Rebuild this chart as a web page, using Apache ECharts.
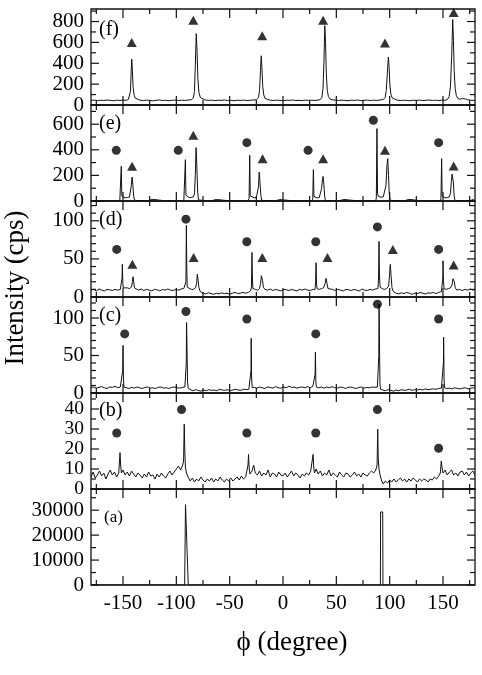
<!DOCTYPE html>
<html>
<head>
<meta charset="utf-8">
<script src="https://cdn.jsdelivr.net/npm/echarts@6/dist/echarts.min.js"></script>
<style>
html, body { margin: 0; padding: 0; background: #fff; }
#chart { width: 482px; height: 675px; }
</style>
</head>
<body>
<div id="chart"></div>
<script>
// phi (degree) / intensity (cps) pairs, top (f) to bottom (a)
const traceF = [
  [-180, 44], [-177, 47], [-174, 42], [-171, 46], [-168, 43], [-165, 48], [-162, 44], [-159, 41], [-156, 46], [-153, 43],
  [-150, 47], [-147, 45], [-145, 52], [-144, 70], [-143, 130], [-142.4, 300], [-141.8, 440], [-141.2, 330], [-140.5, 170], [-139.6, 95],
  [-138.5, 65], [-137, 52], [-134, 46], [-131, 42], [-128, 47], [-125, 44], [-122, 40], [-119, 45], [-116, 48], [-113, 43],
  [-110, 46], [-107, 41], [-104, 45], [-101, 47], [-98, 43], [-95, 46], [-92, 44], [-89, 48], [-86, 50], [-84, 68],
  [-83, 130], [-82.2, 380], [-81.3, 684], [-80.6, 520], [-79.8, 250], [-78.8, 120], [-77.5, 72], [-76, 55], [-73, 48], [-70, 44],
  [-67, 47], [-64, 42], [-61, 46], [-58, 44], [-55, 48], [-52, 43], [-49, 45], [-46, 41], [-43, 46], [-40, 44],
  [-37, 47], [-34, 43], [-31, 45], [-28, 48], [-25, 50], [-23, 70], [-22, 140], [-21.1, 330], [-20.4, 472], [-19.8, 360],
  [-19, 180], [-18, 95], [-16.8, 62], [-15, 52], [-12, 46], [-9, 43], [-6, 47], [-3, 44], [0, 41], [3, 46],
  [6, 44], [9, 48], [12, 43], [15, 45], [18, 42], [21, 47], [24, 44], [27, 46], [30, 43], [33, 48],
  [35, 52], [36.5, 75], [37.5, 160], [38.4, 420], [39.2, 761], [39.9, 600], [40.6, 300], [41.5, 140], [42.6, 80], [44, 58],
  [46, 50], [49, 46], [52, 43], [55, 47], [58, 44], [61, 41], [64, 46], [67, 44], [70, 48], [73, 42],
  [76, 45], [79, 47], [82, 43], [85, 46], [88, 44], [91, 48], [94, 52], [95.8, 72], [96.8, 140], [97.8, 300],
  [98.8, 460], [99.5, 360], [100.2, 190], [101.2, 100], [102.5, 66], [104, 54], [107, 47], [110, 43], [113, 46], [116, 44],
  [119, 41], [122, 46], [125, 44], [128, 47], [131, 43], [134, 45], [137, 48], [140, 44], [143, 46], [146, 42],
  [149, 47], [152, 45], [154, 52], [155.8, 80], [157, 180], [158.2, 480], [159.1, 819], [159.8, 620], [160.5, 330], [161.4, 160],
  [162.5, 90], [164, 62], [166, 55], [168, 62], [169.4, 74], [171, 58], [173, 50], [176, 46], [180, 44]
]
const triF = [[-141.8, 599], [-84.1, 811], [-19.5, 663], [37.6, 811], [95.6, 593], [160, 887]]

const traceE = [
  [-180, 1], [-170, 2], [-160, 1], [-153, 2], [-152.2, 15], [-151.6, 271], [-151.1, 40], [-150.3, 28], [-148, 25], [-146, 27],
  [-144, 30], [-143, 45], [-142.2, 120], [-141.5, 187], [-140.8, 130], [-140, 40], [-139.2, 5], [-138, 1], [-130, 2], [-127, 3],
  [-126, 12], [-122, 13], [-121, 3], [-110, 1], [-100, 2], [-93, 2], [-92.1, 15], [-91.5, 323], [-91, 45], [-90.2, 30],
  [-88, 27], [-86, 28], [-84, 32], [-83, 55], [-82.2, 200], [-81.5, 417], [-80.8, 280], [-80, 70], [-79.2, 8], [-78, 1],
  [-70, 2], [-67, 2], [-66, 11], [-62.5, 12], [-61.5, 2], [-50, 1], [-40, 2], [-33, 2], [-31.8, 18], [-31.2, 357],
  [-30.7, 40], [-29.9, 28], [-27, 25], [-25, 28], [-24, 40], [-23, 110], [-22.3, 226], [-21.6, 150], [-20.8, 45], [-20, 5],
  [-19, 1], [-10, 2], [-7, 2], [-6, 12], [-3, 11], [-2, 2], [10, 1], [20, 2], [27.5, 3], [27.9, 20],
  [28.5, 245], [29, 35], [29.8, 26], [32, 24], [34, 27], [35.3, 40], [36.2, 100], [37, 170], [37.6, 192], [38.3, 130],
  [39, 40], [39.8, 4], [41, 1], [50, 2], [53, 2], [54, 12], [57, 12], [58, 2], [70, 1], [80, 2],
  [87, 3], [87.5, 25], [88.1, 566], [88.6, 60], [89.4, 35], [92, 30], [94, 32], [95.5, 45], [96.5, 120], [97.5, 280],
  [98.2, 331], [98.9, 200], [99.6, 60], [100.4, 5], [102, 1], [110, 2], [114, 2], [115, 12], [118, 13], [119, 2],
  [130, 1], [140, 2], [147.6, 3], [148.1, 22], [148.7, 331], [149.2, 40], [150, 28], [152, 25], [154, 27], [156, 32],
  [157, 60], [157.8, 150], [158.5, 210], [159.1, 218], [159.7, 150], [160.4, 45], [161.2, 4], [163, 1], [170, 2], [175, 2],
  [176, 11], [178.5, 12], [179.5, 3], [180, 1]
]
const circE = [[-156.3, 396], [-98.2, 396], [-33.9, 456], [23.5, 396], [84.7, 631], [145.9, 456]]
const triE = [[-141.5, 271], [-84.1, 514], [-19.1, 331], [37.6, 331], [95.6, 396], [160, 273]]

const traceD = [
  [-180, 9], [-177.5, 10], [-175, 8], [-172.5, 10.5], [-170, 9], [-167.5, 8], [-165, 10], [-162.5, 9.5], [-160, 8.5], [-157.5, 10],
  [-155, 9], [-152.5, 10], [-151.3, 10], [-150.9, 25], [-150.6, 43], [-150.2, 20], [-149.8, 12], [-148, 11], [-146, 12], [-144, 11],
  [-142, 13], [-141.2, 20], [-140.6, 26.6], [-140, 20], [-139.2, 12], [-138, 10], [-135.5, 9], [-133, 10.5], [-130.5, 8.5], [-128, 10],
  [-125.5, 9], [-123, 8], [-120.5, 10], [-118, 9.5], [-115.5, 8], [-113, 10], [-110.5, 9], [-108, 10.5], [-105.5, 9], [-103, 8.5],
  [-100.5, 10], [-98, 9], [-95.5, 10.5], [-93, 11], [-91.5, 12], [-91, 20], [-90.6, 94], [-90.2, 40], [-89.8, 13], [-88, 11],
  [-86, 10], [-84, 10], [-82, 12], [-81, 18], [-80.3, 30], [-79.6, 22], [-78.8, 12], [-77.5, 7], [-75, 5], [-72.5, 4],
  [-70, 5.5], [-67.5, 4.5], [-65, 3.5], [-62.5, 5], [-60, 4], [-57.5, 5.5], [-55, 4.5], [-52.5, 5], [-50, 3.5], [-47.5, 5],
  [-45, 6], [-42.5, 4.5], [-40, 5], [-37.5, 6], [-35, 5], [-32.5, 6], [-30.5, 8], [-29.6, 12], [-29.1, 58.5], [-28.7, 25],
  [-28.2, 11], [-26, 10], [-24, 9], [-22, 11], [-21, 18], [-20.3, 28], [-19.8, 30], [-19.2, 22], [-18.4, 13], [-17, 10],
  [-14.5, 9], [-12, 10.5], [-9.5, 8.5], [-7, 10], [-4.5, 9], [-2, 8], [0.5, 10], [3, 9.5], [5.5, 8.5], [8, 10],
  [10.5, 9], [13, 8], [15.5, 10], [18, 9], [20.5, 10.5], [23, 9], [25.5, 8.5], [28, 10], [30, 10], [30.6, 20],
  [31, 45], [31.4, 18], [32, 11], [34, 10], [36, 11], [38, 12], [39.6, 18], [40.4, 24.5], [41.2, 18], [42.2, 11],
  [44, 9], [46.5, 10], [49, 8.5], [51.5, 10], [54, 9], [56.5, 8], [59, 10], [61.5, 9.5], [64, 8.5], [66.5, 10],
  [69, 9], [71.5, 8], [74, 10.5], [76.5, 9], [79, 8.5], [81.5, 10], [84, 9], [86.5, 10.5], [89, 11], [89.6, 25],
  [90, 73], [90.4, 30], [91, 13], [93, 11], [95, 10], [97, 11], [99, 14], [99.9, 30], [100.6, 42.8], [101.3, 28],
  [102.2, 12], [103.5, 7], [106, 5], [108.5, 4], [111, 5.5], [113.5, 4.5], [116, 6], [118.5, 5], [121, 3.5], [123.5, 5],
  [126, 4.5], [128.5, 6], [131, 5], [133.5, 4], [136, 5.5], [138.5, 5], [141, 6], [143.5, 4.5], [146, 6], [148.5, 7],
  [149.5, 9], [149.8, 25], [150, 47.6], [150.4, 22], [151, 11], [153, 10], [155, 11], [157, 12], [158.5, 16], [159.4, 24],
  [160, 26.6], [160.6, 20], [161.5, 12], [163, 9], [165.5, 10], [168, 8.5], [170.5, 10], [173, 9], [175.5, 10.5], [178, 9],
  [180, 10]
]
const circD = [[-155.9, 62.5], [-91, 102.2], [-33.9, 72.5], [30.7, 72.5], [88.5, 92], [145.9, 62.5]]
const triD = [[-141.2, 43], [-83.8, 52], [-19.4, 52], [41.7, 52], [103, 62.5], [160, 42]]

const traceC = [
  [-180, 7], [-177.5, 8], [-175, 6.5], [-172.5, 7.5], [-170, 8.5], [-167.5, 7], [-165, 6], [-162.5, 8], [-160, 7.5], [-157.5, 9],
  [-155, 7], [-152.5, 8], [-150.8, 8], [-150.3, 30], [-150, 63.4], [-149.6, 20], [-149.1, 8], [-147, 7], [-144.5, 6], [-142, 7.5],
  [-139.5, 6.5], [-137, 8], [-134.5, 7], [-132, 6], [-129.5, 7.5], [-127, 8], [-124.5, 6.5], [-122, 7], [-119.5, 6], [-117, 7.5],
  [-114.5, 8], [-112, 6.5], [-109.5, 7], [-107, 6], [-104.5, 7.5], [-102, 8], [-99.5, 7], [-97, 6.5], [-94.5, 7.5], [-92, 8],
  [-91, 9], [-90.7, 40], [-90.4, 94], [-90, 60], [-89.5, 15], [-88.8, 6], [-87, 4], [-84.5, 3], [-82, 4.5], [-79.5, 3.5],
  [-77, 2.5], [-74.5, 4], [-72, 3], [-69.5, 4.5], [-67, 3.5], [-64.5, 4], [-62, 3], [-59.5, 5], [-57, 4], [-54.5, 3.5],
  [-52, 4.5], [-49.5, 3], [-47, 4], [-44.5, 5], [-42, 4], [-39.5, 3.5], [-37, 5], [-34.5, 4.5], [-32, 5], [-30.4, 6],
  [-30, 30], [-29.8, 73], [-29.4, 20], [-28.9, 7], [-27, 7.5], [-24.5, 6.5], [-22, 8], [-19.5, 7], [-17, 6], [-14.5, 8],
  [-12, 7.5], [-9.5, 6.5], [-7, 8.5], [-4.5, 7], [-2, 6.5], [0.5, 8], [3, 7], [5.5, 9], [8, 7.5], [10.5, 8],
  [13, 6.5], [15.5, 7.5], [18, 8], [20.5, 7], [23, 8.5], [25.5, 7], [28, 9], [29.8, 8], [30.1, 25], [30.4, 54.5],
  [30.8, 15], [31.3, 8], [33.5, 7], [36, 8], [38.5, 6.5], [41, 8], [43.5, 7], [46, 8.5], [48.5, 7], [51, 6.5],
  [53.5, 8], [56, 7.5], [58.5, 6], [61, 7.5], [63.5, 8], [66, 7], [68.5, 6], [71, 7.5], [73.5, 8], [76, 6.5],
  [78.5, 7.5], [81, 7], [83.5, 8], [86, 7.5], [88.5, 8], [89.5, 10], [89.8, 50], [90.1, 118.5], [90.5, 60], [90.9, 12],
  [91.5, 5], [93.5, 4], [96, 3], [98.5, 4.5], [101, 3.5], [103.5, 2.5], [106, 4], [108.5, 3], [111, 4.5], [113.5, 3.5],
  [116, 4], [118.5, 5], [121, 3.5], [123.5, 4.5], [126, 4], [128.5, 5], [131, 4], [133.5, 5.5], [136, 4.5], [138.5, 5],
  [141, 5.5], [143.5, 5], [146, 6], [148.5, 6.5], [150.1, 7], [150.4, 40], [150.6, 74.4], [151, 18], [151.5, 7], [153.5, 6],
  [156, 6.5], [158.5, 5.5], [161, 7], [163.5, 6], [166, 5.5], [168.5, 6.5], [171, 7], [173.5, 5.5], [176, 6.5], [178.5, 7],
  [180, 6]
]
const circC = [[-148.4, 78.8], [-91, 108.7], [-33.9, 98.6], [30.7, 78.8], [88.5, 118.5], [145.9, 98.6]]

const traceB = [
  [-180, 6], [-178, 8.5], [-176, 5.5], [-174, 7], [-172, 9], [-170, 6.5], [-168, 8], [-166, 5], [-164, 7.5], [-162, 9.5],
  [-160, 7], [-158, 8.5], [-156, 6], [-154, 8], [-153.3, 9], [-152.8, 18.2], [-152.2, 12], [-151.5, 8], [-150, 9.5], [-148, 7],
  [-146, 8.5], [-144, 6.5], [-142, 9], [-140, 7.5], [-138, 6], [-136, 8], [-134, 7], [-132, 5.5], [-130, 7.5], [-128, 6],
  [-126, 8.5], [-124, 6.5], [-122, 7], [-120, 5], [-118, 7.5], [-116, 6], [-114, 8], [-112, 6.5], [-110, 5.5], [-108, 7.5],
  [-106, 9], [-104, 7], [-102, 8.5], [-100, 10], [-98, 11.5], [-96, 9.5], [-94, 12], [-93.2, 14], [-92.6, 32.4], [-92.1, 20],
  [-91.5, 11], [-90.5, 8], [-89, 6], [-87, 4], [-85, 5.5], [-83, 3.5], [-81, 5], [-79, 4], [-77, 6], [-75, 4.5],
  [-73, 3.5], [-71, 5], [-69, 4], [-67, 5.5], [-65, 3.5], [-63, 5], [-61, 4], [-59, 6], [-57, 4.5], [-55, 3.5],
  [-53, 5], [-51, 4], [-49, 5.5], [-47, 4], [-45, 5], [-43, 6], [-41, 4.5], [-39, 6.5], [-37, 5], [-35, 6],
  [-33.5, 7], [-32.8, 12], [-32.3, 17.3], [-31.8, 11], [-31, 7.5], [-29, 9], [-27.5, 12], [-26, 8], [-24, 7], [-22, 9],
  [-20, 6.5], [-18, 8], [-16, 7], [-14, 9.5], [-12, 6], [-10, 8], [-8, 7.5], [-6, 6], [-4, 8.5], [-2, 7],
  [0, 6.5], [2, 8], [4, 6], [6, 7.5], [8, 9], [10, 6.5], [12, 8], [14, 7], [16, 5.5], [18, 7.5],
  [20, 6.5], [22, 8], [24, 7], [26, 9], [27.5, 10], [28.2, 17.3], [28.8, 11], [29.5, 8], [31, 10], [33, 7.5],
  [35, 9], [37, 6.5], [39, 8], [41, 7], [43, 9.5], [45, 6.5], [47, 8], [49, 7], [51, 6], [53, 8.5],
  [55, 7], [57, 6], [59, 8], [61, 7.5], [63, 6], [65, 7], [67, 8.5], [69, 6.5], [71, 7.5], [73, 6],
  [75, 8], [77, 7], [79, 6.5], [81, 8], [83, 9], [85, 8], [87, 9.5], [88.2, 12], [88.8, 29.9], [89.3, 15],
  [90, 10], [91, 7], [92.5, 4], [94, 2.5], [96, 4], [98, 3], [100, 4.5], [102, 3.5], [104, 5], [106, 3.5],
  [108, 4.5], [110, 5.5], [112, 4], [114, 5], [116, 3.5], [118, 5], [120, 4], [122, 5.5], [124, 4.5], [126, 3.5],
  [128, 5], [130, 4], [132, 5], [134, 4.5], [136, 3.5], [138, 5], [140, 4.5], [142, 6], [144, 5], [146, 6.5],
  [147.5, 8], [148.4, 14], [149, 11], [150, 8], [152, 9.5], [154, 7], [156, 8.5], [158, 9.5], [160, 7], [162, 8],
  [164, 6.5], [166, 8.5], [168, 9], [170, 7], [172, 8.5], [174, 6.5], [176, 8], [178, 9], [180, 7]
]
const circB = [[-155.9, 28], [-95.1, 39.7], [-33.9, 28], [30.7, 28], [88.5, 39.7], [145.9, 20.4]]

const traceA = [
  [-180, 0], [-92.2, 0], [-91.4, 32200], [-90.2, 32200], [-88.8, 0],
  [91.3, 0], [91.5, 29300], [93.5, 29300], [93.7, 0], [180, 0]
]

const phiLabels = [-150, -100, -50, 0, 50, 100, 150]
const phiMinor = [-175, -125, -75, -25, 25, 75, 125, 175]

const panels = [
  { name: '(f)', trace: traceF, circles: [], triangles: triF, max: 920, step: 200, minorStep: 100 },
  { name: '(e)', trace: traceE, circles: circE, triangles: triE, max: 750, step: 200, minorStep: 100 },
  { name: '(d)', trace: traceD, circles: circD, triangles: triD, max: 126, step: 50, minorStep: 10 },
  { name: '(c)', trace: traceC, circles: circC, triangles: [], max: 128, step: 50, minorStep: 10 },
  { name: '(b)', trace: traceB, circles: circB, triangles: [], max: 48, step: 10, minorStep: 5 },
  { name: '(a)', trace: traceA, circles: [], triangles: [], max: 38500, step: 10000, minorStep: 5000 }
]

const FONT = "'Liberation Serif', 'Times New Roman', serif"
const INK = '#111'
const TOP = 9
const PANEL_H = 96
const LABEL_Y = [31, 125, 221, 317, 412, 518]
const TICK = { xMajor: 9, yMajor: 8, minor: 5 }

const chart = echarts.init(document.getElementById('chart'))

const grid = []
const xAxis = []
const yAxis = []
const series = []
const texts = []

const tickLabel = (margin, fontSize) => ({
  show: true, margin, color: '#000', fontSize, fontFamily: FONT,
  showMinLabel: true, showMaxLabel: true, hideOverlap: false,
  formatter: (v) => String(v)
})

const tickSets = []

panels.forEach((p, i) => {
  const last = i === panels.length - 1
  grid.push({
    left: 91, right: 7, top: TOP + i * PANEL_H, height: PANEL_H,
    show: true, borderColor: INK, borderWidth: 1.3, backgroundColor: 'transparent'
  })

  const majors = []
  for (let v = 0; v <= p.max; v += p.step) majors.push(v)
  const minors = []
  for (let v = p.minorStep; v <= p.max; v += p.minorStep) if (v % p.step) minors.push(v)
  tickSets.push({ majors, minors, max: p.max })

  xAxis.push({
    gridIndex: i, type: 'value', min: -180, max: 180,
    axisLine: { show: false, onZero: false },
    axisTick: { show: false },
    splitLine: { show: false },
    axisLabel: last ? { ...tickLabel(8, 21), customValues: phiLabels } : { show: false }
  })
  yAxis.push({
    gridIndex: i, type: 'value', min: 0, max: p.max,
    axisLine: { show: false, onZero: false },
    axisTick: { show: false },
    splitLine: { show: false },
    axisLabel: { ...tickLabel(7, p.step === 10 ? 19.5 : 21), customValues: majors }
  })

  series.push({
    type: 'line', xAxisIndex: i, yAxisIndex: i,
    data: p.trace, symbol: 'none', showSymbol: false,
    lineStyle: { color: INK, width: 1 }, animation: false, z: 2
  })
  if (p.circles.length) {
    series.push({
      type: 'scatter', xAxisIndex: i, yAxisIndex: i,
      data: p.circles, symbol: 'circle', symbolSize: 9,
      itemStyle: { color: '#000' }, animation: false, z: 3
    })
  }
  if (p.triangles.length) {
    series.push({
      type: 'scatter', xAxisIndex: i, yAxisIndex: i,
      data: p.triangles, symbol: 'triangle', symbolSize: [10, 9],
      itemStyle: { color: '#000' }, animation: false, z: 3
    })
  }

  texts.push({
    type: 'text', left: last ? 104 : 99, top: LABEL_Y[i] - (last ? 9 : 11),
    style: { text: p.name, font: (last ? 17 : 20) + 'px ' + FONT, fill: '#000' }
  })
})

texts.push({
  type: 'text', x: 16, y: 288, rotation: Math.PI / 2,
  style: {
    text: 'Intensity (cps)', font: '27px ' + FONT, fill: '#000',
    align: 'center', verticalAlign: 'middle', textAlign: 'center', textVerticalAlign: 'middle'
  }
})
texts.push({
  type: 'text', x: 292, y: 643,
  style: {
    text: '\u03D5 (degree)', font: '27px ' + FONT, fill: '#000',
    align: 'center', verticalAlign: 'middle', textAlign: 'center', textVerticalAlign: 'middle'
  }
})

chart.setOption({
  animation: false,
  grid,
  xAxis,
  yAxis,
  series,
  graphic: texts
})

// inside ticks on all four sides, placed with each panel's own axes once they exist
const tickLines = []
const tickLine = (x1, y1, x2, y2) => tickLines.push({
  type: 'line', z: 100, silent: true,
  shape: { x1, y1, x2, y2 },
  style: { stroke: INK, lineWidth: 1.2 }
})
tickSets.forEach((t, i) => {
  const finder = { xAxisIndex: i, yAxisIndex: i }
  const topLeft = chart.convertToPixel(finder, [-180, t.max])
  const bottomRight = chart.convertToPixel(finder, [180, 0])
  const left = topLeft[0], top = topLeft[1], right = bottomRight[0], bottom = bottomRight[1]
  const xTicks = phiLabels.map((v) => [v, TICK.xMajor]).concat(phiMinor.map((v) => [v, TICK.minor]))
  xTicks.forEach(([v, len]) => {
    const x = chart.convertToPixel(finder, [v, 0])[0]
    tickLine(x, bottom, x, bottom - len)
    tickLine(x, top, x, top + len)
  })
  const yTicks = t.majors.map((v) => [v, TICK.yMajor]).concat(t.minors.map((v) => [v, TICK.minor]))
  yTicks.forEach(([v, len]) => {
    const y = chart.convertToPixel(finder, [0, v])[1]
    tickLine(left, y, left + len, y)
    tickLine(right, y, right - len, y)
  })
})

chart.setOption({ graphic: texts.concat(tickLines) })
</script>
</body>
</html>
